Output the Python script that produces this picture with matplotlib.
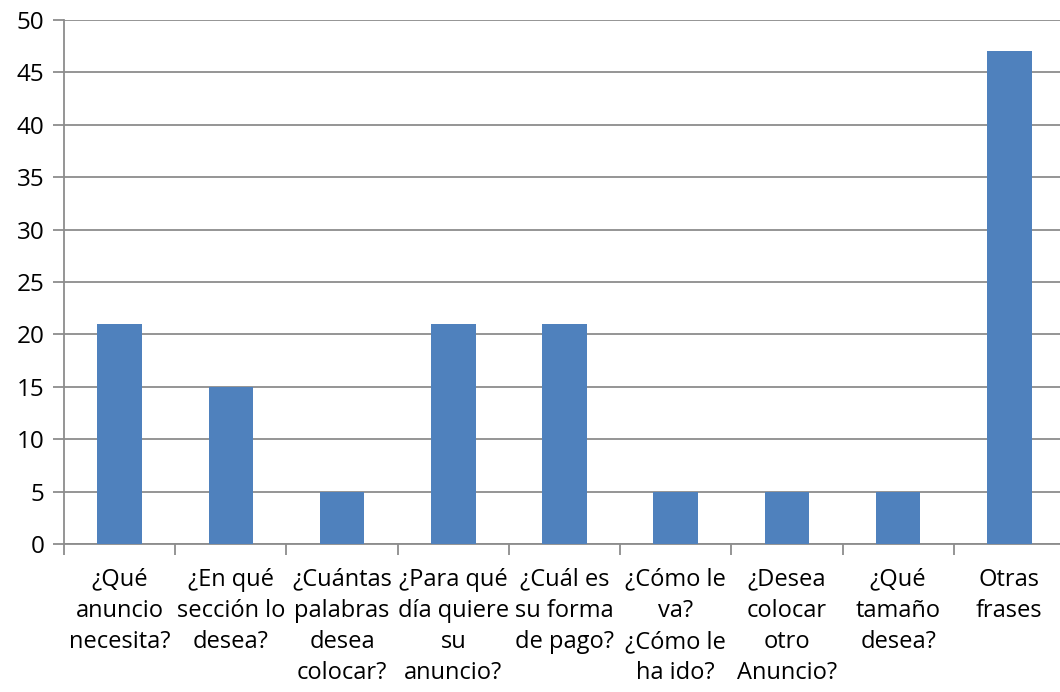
import matplotlib
matplotlib.use("Agg")
import matplotlib.pyplot as plt
from matplotlib.ticker import FixedLocator, NullFormatter

plt.rcParams['font.family'] = ['Open Sans', 'DejaVu Sans']

categories = [
    "¿Qué\nanuncio\nnecesita?",
    "¿En qué\nsección lo\ndesea?",
    "¿Cuántas\npalabras\ndesea\ncolocar?",
    "¿Para qué\ndía quiere\nsu\nanuncio?",
    "¿Cuál es\nsu forma\nde pago?",
    "¿Cómo le\nva?\n¿Cómo le\nha ido?",
    "¿Desea\ncolocar\notro\nAnuncio?",
    "¿Qué\ntamaño\ndesea?",
    "Otras\nfrases",
]
values = [21, 15, 5, 21, 21, 5, 5, 5, 47]
y_ticks = [0, 5, 10, 15, 20, 25, 30, 35, 40, 45, 50]

fig = plt.figure(figsize=(10.6, 6.92), dpi=100)
ax = fig.add_axes([0.0604, 0.2139, 0.9443, 0.7572])

x = list(range(len(categories)))
ax.bar(x, values, width=0.40, color='#4F81BD', zorder=3)

ax.set_xlim(-0.5, len(categories) - 0.5)
ax.set_ylim(0, 50)
ax.set_yticks(y_ticks)
ax.yaxis.grid(True, color='#8C8C8C', linewidth=1.3, zorder=0)

ax.set_xticks(x)
ax.set_xticklabels(categories, fontsize=17, linespacing=1.4)
ax.tick_params(axis='x', which='major', length=0, pad=17)
ax.xaxis.set_minor_locator(FixedLocator([i - 0.5 for i in range(len(categories) + 1)]))
ax.xaxis.set_minor_formatter(NullFormatter())
ax.tick_params(axis='x', which='minor', length=8, width=1.3, color='#8C8C8C')
ax.tick_params(axis='y', length=8, width=1.3, color='#8C8C8C', labelsize=17.5, pad=6)
for lbl in ax.get_xticklabels():
    lbl.set_verticalalignment('top')

for side in ['top', 'right']:
    ax.spines[side].set_visible(False)
for side in ['left', 'bottom']:
    ax.spines[side].set_color('#8C8C8C')
    ax.spines[side].set_linewidth(1.3)

fig.savefig('out.png', dpi=100, facecolor='white')
